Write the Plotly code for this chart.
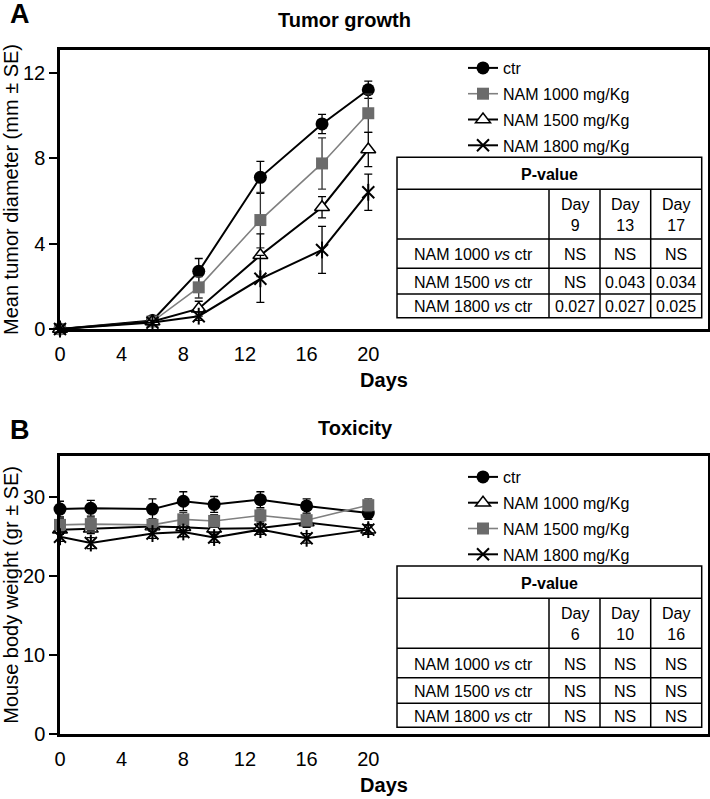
import plotly.graph_objects as go

# ---------------- data ----------------
days_a = [0, 6, 9, 13, 17, 20]
ctr_a = [0, 0.4, 2.7, 7.1, 9.6, 11.2]
ctr_a_se = [0, 0.1, 0.6, 0.75, 0.45, 0.4]
nam1000_a = [0, 0.35, 1.95, 5.1, 7.75, 10.1]
nam1000_a_se = [0, 0.1, 0.5, 1.3, 1.2, 0.9]
nam1500_a = [0, 0.35, 0.95, 3.45, 5.7, 8.4]
nam1500_a_se = [0, 0.1, 0.35, 1.0, 0.5, 0.8]
nam1800_a = [0, 0.3, 0.6, 2.35, 3.7, 6.4]
nam1800_a_se = [0, 0.1, 0.2, 1.1, 1.1, 0.85]

days_b = [0, 2, 6, 8, 10, 13, 16, 20]
ctr_b = [28.5, 28.6, 28.5, 29.5, 29.1, 29.7, 28.9, 28.0]
ctr_b_se = [1.0, 1.0, 1.3, 1.2, 1.0, 1.0, 0.9, 0.8]
nam1000_b = [25.9, 26.0, 26.3, 26.2, 26.0, 26.1, 26.8, 25.9]
nam1000_b_se = [0.6, 0.6, 0.6, 0.6, 0.7, 0.6, 0.6, 0.6]
nam1500_b = [26.5, 26.6, 26.5, 27.2, 27.0, 27.7, 27.1, 29.0]
nam1500_b_se = [0.8, 0.8, 0.8, 0.9, 0.8, 0.8, 0.8, 0.8]
nam1800_b = [25.0, 24.2, 25.4, 25.6, 24.9, 25.9, 24.8, 25.9]
nam1800_b_se = [0.6, 0.7, 0.6, 0.6, 0.6, 0.6, 0.6, 0.6]

x_ticks = [0, 4, 8, 12, 16, 20]
y_ticks_a = [0, 4, 8, 12]
y_ticks_b = [0, 10, 20, 30]

table_a_cols = ["Day<br>9", "Day<br>13", "Day<br>17"]
table_b_cols = ["Day<br>6", "Day<br>10", "Day<br>16"]
table_rows = ["NAM 1000 <i>vs</i> ctr", "NAM 1500 <i>vs</i> ctr", "NAM 1800 <i>vs</i> ctr"]
table_a_vals = [["NS", "NS", "NS"], ["NS", "0.043", "0.034"], ["0.027", "0.027", "0.025"]]
table_b_vals = [["NS", "NS", "NS"], ["NS", "NS", "NS"], ["NS", "NS", "NS"]]

# ---------------- layout helpers ----------------
W, H = 710, 799
FONT = "Liberation Sans, Arial, Helvetica, sans-serif"
GRAY_M = "#6b6b6b"
GRAY_L = "#808080"


def px(x):
    return x / W


def py(y):
    return 1 - y / H


fig = go.Figure()


def add_series(x, y, se, name, kind, xa, ya, legend):
    common = dict(x=x, y=y, name=name, xaxis=xa, yaxis=ya, legend=legend,
                  legendgroup=f"{legend}-{name}",
                  mode="lines+markers", cliponaxis=False,
                  error_y=dict(type="data", array=se, visible=True,
                               color="black", thickness=1.3, width=4))
    if kind == "circle":
        fig.add_trace(go.Scatter(**common, line=dict(color="black", width=2),
                                 marker=dict(symbol="circle", size=13, color="black")))
    elif kind == "square":
        common["error_y"]["color"] = "#333333"
        fig.add_trace(go.Scatter(**common, line=dict(color=GRAY_L, width=1.6),
                                 marker=dict(symbol="square", size=12, color=GRAY_M)))
    elif kind == "triangle":
        fig.add_trace(go.Scatter(**common, line=dict(color="black", width=2),
                                 marker=dict(symbol="triangle-up", size=13, color="white",
                                             line=dict(color="black", width=1.5))))
    elif kind == "star":
        fig.add_trace(go.Scatter(**common, line=dict(color="black", width=2),
                                 marker=dict(symbol="x-thin-open", size=12, color="black",
                                             line=dict(color="black", width=2))))
        fig.add_trace(go.Scatter(x=x, y=y, xaxis=xa, yaxis=ya, mode="markers",
                                 showlegend=False, cliponaxis=False, hoverinfo="skip",
                                 marker=dict(symbol="line-ns-open", size=12, color="black",
                                             line=dict(color="black", width=2))))


add_series(days_a, ctr_a, ctr_a_se, "ctr", "circle", "x", "y", "legend")
add_series(days_a, nam1000_a, nam1000_a_se, "NAM 1000 mg/Kg", "square", "x", "y", "legend")
add_series(days_a, nam1500_a, nam1500_a_se, "NAM 1500 mg/Kg", "triangle", "x", "y", "legend")
add_series(days_a, nam1800_a, nam1800_a_se, "NAM 1800 mg/Kg", "star", "x", "y", "legend")

add_series(days_b, ctr_b, ctr_b_se, "ctr", "circle", "x2", "y2", "legend2")
add_series(days_b, nam1000_b, nam1000_b_se, "NAM 1000 mg/Kg", "triangle", "x2", "y2", "legend2")
add_series(days_b, nam1500_b, nam1500_b_se, "NAM 1500 mg/Kg", "square", "x2", "y2", "legend2")
add_series(days_b, nam1800_b, nam1800_b_se, "NAM 1800 mg/Kg", "star", "x2", "y2", "legend2")

X_DOM = [px(60), px(708)]
A_DOM = [py(329), py(50)]
B_DOM = [py(734), py(455.7)]

xcommon = dict(range=[0, 42.04], tickvals=x_ticks, showgrid=False, zeroline=False,
               showline=True, linecolor="black", linewidth=2.5, mirror=True,
               ticks="", tickfont=dict(size=20, color="black"), ticklabelstandoff=5,
               automargin=False,
               title=dict(text="<b>Days</b>", font=dict(size=20, color="black"), standoff=10))
ycommon = dict(showgrid=False, zeroline=False, showline=True, linecolor="black",
               linewidth=2.5, mirror=True, ticks="outside", ticklen=8, tickwidth=2,
               tickcolor="black", tickfont=dict(size=20, color="black"), automargin=False)

fig.update_layout(
    width=W, height=H, margin=dict(l=0, r=0, t=0, b=0, autoexpand=False),
    paper_bgcolor="white", plot_bgcolor="white",
    font=dict(family=FONT, color="black"),
    xaxis=dict(domain=X_DOM, anchor="y", **xcommon),
    yaxis=dict(domain=A_DOM, anchor="x", range=[0, 13.06], tickvals=y_ticks_a,
               title=dict(text="Mean tumor diameter (mm ± SE)", font=dict(size=20), standoff=0),
               **ycommon),
    xaxis2=dict(domain=X_DOM, anchor="y2", **xcommon),
    yaxis2=dict(domain=B_DOM, anchor="x2", range=[0, 35.27], tickvals=y_ticks_b,
                title=dict(text="Mouse body weight (gr ± SE)", font=dict(size=20), standoff=0),
                **ycommon),
    legend=dict(x=px(463), y=py(51), xanchor="left", yanchor="top",
                bgcolor="rgba(0,0,0,0)", font=dict(size=16), tracegroupgap=2),
    legend2=dict(x=px(463), y=py(460), xanchor="left", yanchor="top",
                 bgcolor="rgba(0,0,0,0)", font=dict(size=16), tracegroupgap=2),
    showlegend=True,
)

annotations = []
shapes = []


def label(x, y, text, size, bold=False):
    annotations.append(dict(x=px(x), y=py(y), xref="paper", yref="paper",
                            text=f"<b>{text}</b>" if bold else text, showarrow=False,
                            font=dict(size=size, color="black", family=FONT),
                            xanchor="center", yanchor="middle"))


label(20, 14, "A", 27, True)
label(344, 20, "Tumor growth", 20, True)
label(20, 430, "B", 27, True)
label(355.5, 428, "Toxicity", 20, True)


def draw_table(rows_y, cols_x, headers, rows, vals):
    left, right = cols_x[0], cols_x[-1]
    shapes.append(dict(type="rect", xref="paper", yref="paper",
                       x0=px(left), x1=px(right), y0=py(rows_y[0]), y1=py(rows_y[-1]),
                       line=dict(color="black", width=1.5), fillcolor="white", layer="above"))
    for yy in rows_y[1:-1]:
        shapes.append(dict(type="line", xref="paper", yref="paper",
                           x0=px(left), x1=px(right), y0=py(yy), y1=py(yy),
                           line=dict(color="black", width=1.5), layer="above"))
    for xx in cols_x[1:-1]:
        shapes.append(dict(type="line", xref="paper", yref="paper",
                           x0=px(xx), x1=px(xx), y0=py(rows_y[1]), y1=py(rows_y[-1]),
                           line=dict(color="black", width=1.5), layer="above"))
    label((left + right) / 2, (rows_y[0] + rows_y[1]) / 2 + 1, "P-value", 16, True)
    for j, h in enumerate(headers):
        label((cols_x[j + 1] + cols_x[j + 2]) / 2, (rows_y[1] + rows_y[2]) / 2 + 1, h, 16)
    for i, r in enumerate(rows):
        yc = (rows_y[i + 2] + rows_y[i + 3]) / 2 + 1
        label((cols_x[0] + cols_x[1]) / 2, yc, r, 16)
        for j, v in enumerate(vals[i]):
            label((cols_x[j + 1] + cols_x[j + 2]) / 2, yc, v, 16)


draw_table([157.3, 189.3, 239, 268.3, 294, 317.7], [397, 549, 600, 650.7, 701.7],
           table_a_cols, table_rows, table_a_vals)
draw_table([566, 598.3, 648.3, 677.7, 703.3, 727.3], [397, 549, 600, 650.7, 701.7],
           table_b_cols, table_rows, table_b_vals)

fig.update_layout(annotations=annotations, shapes=shapes)
fig.write_html("out.html", config={"displayModeBar": False},
               post_script="document.body.style.margin='0';document.body.style.overflow='hidden';")
